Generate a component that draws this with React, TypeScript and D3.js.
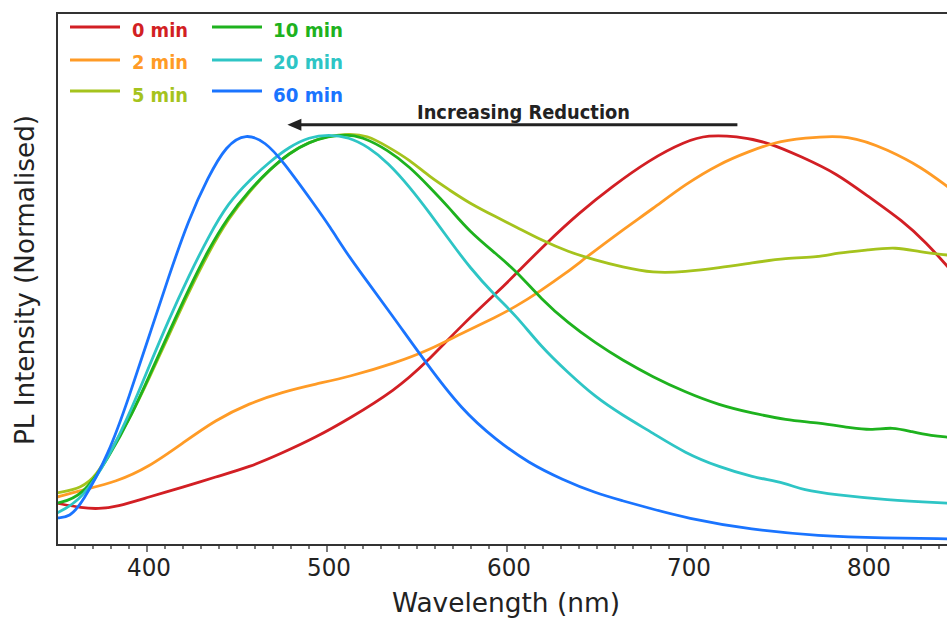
import React from 'react';
import * as d3 from 'd3';

const W = 947;
const H = 619;

const seriesNames = ['0 min', '2 min', '5 min', '10 min', '20 min', '60 min'];
const seriesColors = ['#d21f24', '#ff9b26', '#a5c31d', '#1eb21e', '#2ec5c5', '#1a74ff'];

const min0: [number, number][] = [
  [350, 0.102], [364, 0.090], [373, 0.088], [383, 0.093], [401, 0.117], [420, 0.141], [438, 0.166],
  [457, 0.190], [475, 0.224], [494, 0.263], [512, 0.307], [538, 0.378], [555, 0.444], [575, 0.537],
  [596, 0.622], [606, 0.666], [622, 0.737], [640, 0.810], [658, 0.873], [679, 0.939], [699, 0.985],
  [712, 1.0], [727, 0.997], [745, 0.983], [764, 0.946], [783, 0.907], [801, 0.849], [820, 0.790],
  [833, 0.737], [845, 0.678],
];
const min2: [number, number][] = [
  [350, 0.117], [364, 0.134], [383, 0.154], [401, 0.190], [420, 0.249], [438, 0.305], [457, 0.346],
  [475, 0.373], [494, 0.393], [512, 0.410], [538, 0.444], [557, 0.476], [575, 0.517], [594, 0.556],
  [605, 0.582], [617, 0.615], [634, 0.667], [642, 0.695], [664, 0.768], [681, 0.820], [699, 0.880],
  [718, 0.930], [734, 0.959], [749, 0.983], [764, 0.992], [790, 1.002], [812, 0.963], [830, 0.922],
  [845, 0.873],
];
const min5: [number, number][] = [
  [350, 0.127], [364, 0.139], [372, 0.170], [379, 0.224], [392, 0.322], [401, 0.405], [412, 0.510],
  [423, 0.615], [434, 0.712], [445, 0.795], [457, 0.863], [468, 0.915], [479, 0.956], [490, 0.983],
  [501, 0.998], [512, 1.003], [522, 1.0], [534, 0.971], [546, 0.939], [557, 0.898], [568, 0.866],
  [579, 0.834], [594, 0.800], [605, 0.776], [619, 0.744], [634, 0.715], [649, 0.695], [664, 0.678],
  [681, 0.663], [699, 0.666], [718, 0.676], [736, 0.688], [755, 0.700], [773, 0.702], [783, 0.712],
  [801, 0.720], [816, 0.727], [829, 0.715], [845, 0.707],
];
const min10: [number, number][] = [
  [350, 0.102], [364, 0.117], [379, 0.215], [392, 0.322], [401, 0.410], [412, 0.517], [423, 0.622],
  [434, 0.720], [445, 0.800], [457, 0.866], [468, 0.915], [479, 0.956], [490, 0.983], [501, 0.997],
  [510, 1.001], [519, 0.997], [534, 0.963], [546, 0.922], [557, 0.873], [568, 0.822], [579, 0.765],
  [594, 0.710], [606, 0.664], [619, 0.600], [634, 0.541], [649, 0.493], [664, 0.451], [681, 0.410],
  [699, 0.373], [718, 0.341], [736, 0.322], [755, 0.305], [773, 0.298], [792, 0.285], [803, 0.280],
  [814, 0.288], [825, 0.276], [836, 0.266], [845, 0.263],
];
const min20: [number, number][] = [
  [350, 0.078], [364, 0.110], [379, 0.215], [392, 0.337], [401, 0.434], [412, 0.549], [423, 0.654],
  [434, 0.751], [445, 0.834], [457, 0.890], [468, 0.934], [479, 0.971], [490, 0.995], [501, 1.001],
  [512, 0.995], [523, 0.971], [534, 0.932], [546, 0.873], [557, 0.810], [568, 0.744], [579, 0.678],
  [594, 0.605], [605, 0.560], [619, 0.483], [634, 0.420], [649, 0.361], [664, 0.317], [681, 0.273],
  [699, 0.224], [718, 0.190], [736, 0.166], [755, 0.151], [764, 0.134], [783, 0.122], [810, 0.110],
  [845, 0.102],
];
const min60: [number, number][] = [
  [350, 0.066], [357, 0.068], [364, 0.102], [379, 0.224], [390, 0.361], [401, 0.507], [412, 0.654],
  [423, 0.793], [434, 0.898], [444, 0.975], [455, 1.005], [466, 0.982], [475, 0.939], [494, 0.824],
  [501, 0.780], [512, 0.705], [519, 0.663], [538, 0.549], [555, 0.444], [575, 0.329], [594, 0.256],
  [612, 0.200], [631, 0.159], [649, 0.127], [664, 0.108], [679, 0.090], [699, 0.066], [736, 0.037],
  [773, 0.022], [810, 0.017], [845, 0.015],
];

const seriesData = [min0, min2, min5, min10, min20, min60];

const xMajorTicks = [400, 500, 600, 700, 800];
const xMinorTicks = d3.range(360, 850, 10);
const xLabel = 'Wavelength (nm)';
const yLabel = 'PL Intensity (Normalised)';
const arrowText = 'Increasing Reduction';
const arrowFrom: [number, number] = [728, 1.025];
const arrowTo: [number, number] = [478, 1.025];

const FONT = "'DejaVu Sans', Verdana, sans-serif";

export default function App() {
  const left = 57;
  const top = 13;
  const bottom = 545;
  const x = d3.scaleLinear().domain([350, 850]).range([left, left + 900]);
  const y = d3.scaleLinear().domain([0, 1.3]).range([bottom, bottom - 1.3 * 410]);
  const line = d3
    .line<[number, number]>()
    .x((d) => x(d[0]))
    .y((d) => y(d[1]))
    .curve(d3.curveBasis);

  const axisColor = '#333';
  const textColor = '#222';

  const ax1 = x(arrowFrom[0]);
  const ax2 = x(arrowTo[0]);
  const ay = y(arrowFrom[1]);

  const legendCols = [
    { lx: 70, tx: 132, w: 56 },
    { lx: 212, tx: 273, w: 70 },
  ];
  const rowLine = [27, 60, 91];
  const rowText = [37, 69, 101.5];

  return (
    <svg
      width={W}
      height={H}
      viewBox={`0 0 ${W} ${H}`}
      style={{ position: 'absolute', left: 0, top: 0, background: '#fff' }}
    >
      <defs>
        <clipPath id="plotClip">
          <rect x={left} y={top} width={W - left} height={bottom - top} />
        </clipPath>
      </defs>
      <rect x={0} y={0} width={W} height={H} fill="#fff" />

      <g clipPath="url(#plotClip)">
        {seriesData.map((d, i) => (
          <path
            key={seriesNames[i]}
            d={line(d) || ''}
            fill="none"
            stroke={seriesColors[i]}
            strokeWidth={2.8}
            strokeLinejoin="round"
            strokeLinecap="round"
          />
        ))}
      </g>

      {/* frame */}
      <line x1={left} y1={top} x2={W} y2={top} stroke={axisColor} strokeWidth={2} />
      <line x1={left} y1={top - 1} x2={left} y2={bottom + 1} stroke={axisColor} strokeWidth={2} />
      <line x1={left - 1} y1={bottom} x2={W} y2={bottom} stroke={axisColor} strokeWidth={2} />

      {/* ticks */}
      {xMinorTicks.map((t) => {
        const major = xMajorTicks.includes(t);
        return (
          <line
            key={t}
            x1={x(t)}
            x2={x(t)}
            y1={bottom}
            y2={bottom + (major ? 7 : 4)}
            stroke={axisColor}
            strokeWidth={1.3}
          />
        );
      })}
      {xMajorTicks.map((t) => (
        <text
          key={t}
          x={x(t) + 2}
          y={576}
          textAnchor="middle"
          fontFamily={FONT}
          fontSize={24}
          fill={textColor}
          textLength={44}
          lengthAdjust="spacingAndGlyphs"
        >
          {t}
        </text>
      ))}

      <text
        x={506}
        y={612}
        textAnchor="middle"
        fontFamily={FONT}
        fontSize={26}
        fill={textColor}
        textLength={228}
        lengthAdjust="spacingAndGlyphs"
      >
        {xLabel}
      </text>
      <text
        transform={`translate(34,280) rotate(-90)`}
        textAnchor="middle"
        fontFamily={FONT}
        fontSize={27}
        fill={textColor}
        textLength={330}
        lengthAdjust="spacingAndGlyphs"
      >
        {yLabel}
      </text>

      {/* arrow annotation */}
      <line x1={ax1} y1={ay} x2={ax2 + 12} y2={ay} stroke={textColor} strokeWidth={3} />
      <path
        d={`M${ax2},${ay} L${ax2 + 14},${ay - 6} L${ax2 + 14},${ay + 6} Z`}
        fill={textColor}
      />
      <text
        x={417}
        y={119}
        fontFamily={FONT}
        fontWeight="bold"
        fontSize={20}
        fill={textColor}
        textLength={213}
        lengthAdjust="spacingAndGlyphs"
      >
        {arrowText}
      </text>

      {/* legend */}
      {seriesNames.map((name, i) => {
        const col = legendCols[Math.floor(i / 3)];
        const row = i % 3;
        return (
          <g key={name}>
            <line
              x1={col.lx}
              x2={col.lx + 50}
              y1={rowLine[row]}
              y2={rowLine[row]}
              stroke={seriesColors[i]}
              strokeWidth={3}
            />
            <text
              x={col.tx}
              y={rowText[row]}
              fontFamily={FONT}
              fontWeight="bold"
              fontSize={19}
              fill={seriesColors[i]}
              textLength={col.w}
              lengthAdjust="spacingAndGlyphs"
            >
              {name}
            </text>
          </g>
        );
      })}
    </svg>
  );
}
